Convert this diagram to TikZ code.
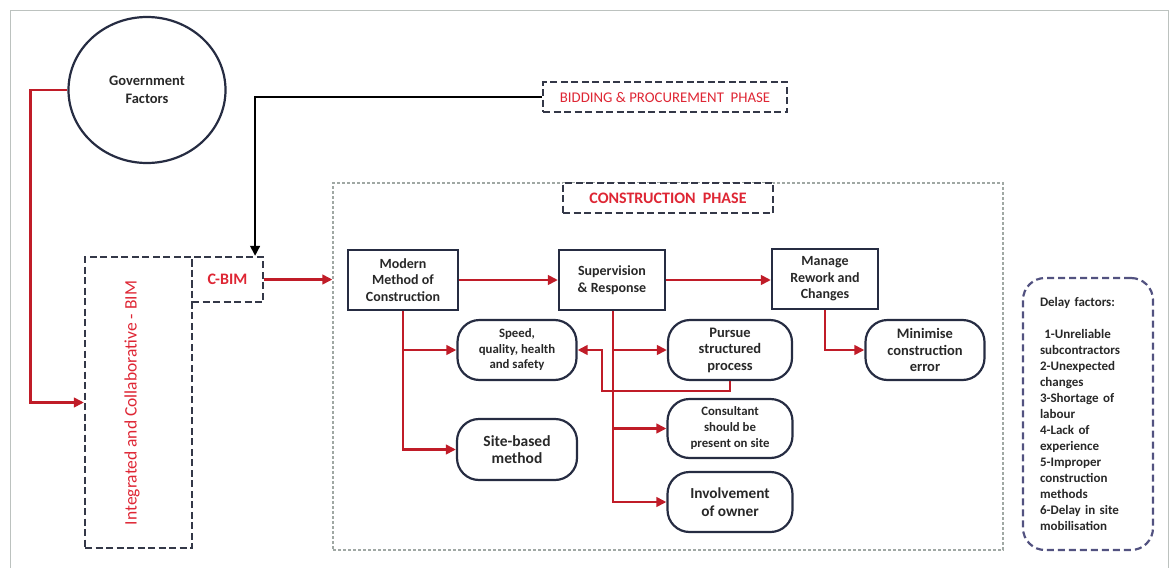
\documentclass[tikz,border=0pt]{standalone}
\usepackage{fontspec}
\setmainfont{Carlito}
\usepackage{tikz}
\usetikzlibrary{positioning,arrows.meta,calc,shapes.geometric}
\usepackage{xcolor}
\definecolor{bimred}{RGB}{192,28,40}
\definecolor{bimtxtred}{RGB}{222,38,52}
\definecolor{bimnavy}{RGB}{38,44,66}
\definecolor{bimdash}{RGB}{52,56,72}
\definecolor{bimlilac}{RGB}{82,82,128}
\definecolor{bimframe}{RGB}{160,168,164}
\definecolor{bimtext}{RGB}{40,40,40}

\begin{document}
\begin{tikzpicture}[
  x=1pt, y=-1pt,
  font=\fontsize{14}{16.5}\selectfont\bfseries,
  >={Triangle[length=10pt,width=9.5pt]},
  mainbox/.style={draw=bimnavy, line width=2.2pt, text=bimtext, align=center,
    inner sep=2pt, minimum width=108pt, minimum height=60pt},
  roundbox/.style={draw=bimnavy, line width=2.2pt, rounded corners=22pt,
    text=bimtext, align=center, inner sep=2pt, minimum width=120pt,
    minimum height=60pt},
  phasebox/.style={draw=bimdash, line width=2.2pt, dash pattern=on 7pt off 3.5pt,
    text=bimtxtred, inner sep=0pt},
  redarrow/.style={->, draw=bimred, line width=2.6pt},
]
  \useasboundingbox (0,0) rectangle (1171,568);
  % Page frame
  \draw[bimframe!70, line width=1pt] (10,568) -- (10,10) -- (1168,10) -- (1168,568);

  % Government factors and the BIM column
  \node[ellipse, draw=bimnavy, line width=2.2pt, minimum width=157pt, minimum height=146pt,
    inner sep=0pt, text=bimtext, align=center, font=\fontsize{14.5}{18}\selectfont\bfseries]
    (gov) at (147,90) {Government\\Factors};
  \node[phasebox, minimum width=107pt, minimum height=291pt] (integ) at (138.5,402.5) {};
  \node[rotate=90, text=bimtxtred, font=\fontsize{17.5}{20}\selectfont] (integlabel)
    at (132,403) {Integrated and Collaborative - BIM};
  \node[phasebox, minimum width=71pt, minimum height=45pt,
    font=\fontsize{16}{18}\selectfont\bfseries] (cbim) at (227.5,279.5) {C-BIM};

  % Phase labels
  \node[phasebox, minimum width=244pt, minimum height=30pt,
    font=\fontsize{14.8}{17}\selectfont] (bid) at (665,97) {BIDDING \& PROCUREMENT \ PHASE};
  \node[draw=bimframe, line width=1.2pt, dash pattern=on 3pt off 2pt,
    minimum width=670pt, minimum height=367pt] (cframe) at (668,366.5) {};
  \node[phasebox, fill=white, minimum width=210pt, minimum height=30pt,
    font=\fontsize{16}{18}\selectfont\bfseries] (clabel) at (668,198) {CONSTRUCTION \ PHASE};

  % Main steps
  \node[mainbox, minimum width=110pt] (mmc) at (403,280) {Modern\\Method of\\Construction};
  \node[mainbox, minimum width=106pt] (sup) at (612,280) {Supervision\\\& Response};
  \node[mainbox, minimum width=106pt] (mrc) at (825,279) {Manage\\Rework and\\Changes};

  % Outcomes
  \node[roundbox, minimum width=119pt, font=\fontsize{12.8}{15.5}\selectfont\bfseries]
    (speed) at (517,350) {Speed,\\quality, health\\and safety};
  \node[roundbox, minimum width=120pt, minimum height=61pt, font=\fontsize{15.5}{17.5}\selectfont\bfseries]
    (site) at (517,449.5) {Site-based\\method};
  \node[roundbox, minimum width=124pt, font=\fontsize{14.5}{16.5}\selectfont\bfseries]
    (pursue) at (730,350) {Pursue\\structured\\process};
  \node[roundbox, minimum width=125pt, minimum height=59pt, font=\fontsize{12.8}{16}\selectfont\bfseries]
    (consult) at (730,428.5) {Consultant\\should be\\present on site};
  \node[roundbox, minimum width=125pt, font=\fontsize{15.3}{17.5}\selectfont\bfseries]
    (owner) at (730,502) {Involvement\\of owner};
  \node[roundbox, minimum width=119pt, font=\fontsize{14.5}{16.5}\selectfont\bfseries]
    (minim) at (925,350) {Minimise\\construction\\error};

  % Delay factors
  \node[draw=bimlilac, line width=2.2pt, dash pattern=on 7pt off 4pt, rounded corners=22pt,
    minimum width=130pt, minimum height=272pt, text width=96pt, align=left, text=bimtext,
    font=\fontsize{13}{16}\selectfont\bfseries] (delay) at (1088,414)
    {Delay factors:\\[16pt]
     \ 1-Unreliable\\subcontractors\\2-Unexpected\\changes\\3-Shortage of\\labour\\
     4-Lack of\\experience\\5-Improper\\construction\\methods\\6-Delay in site\\mobilisation};

  % Connectors
  \draw[redarrow] (gov.west) -- ++(-37,0) |- (integ.west);
  \draw[->, line width=2.4pt] (bid.west) -| ([xshift=-9pt]cbim.north east);
  \draw[redarrow] (cbim.east) -- (cbim.east -| cframe.west);
  \draw[redarrow] (mmc.east) -- (sup.west);
  \draw[redarrow] (sup.east) -- (sup.east -| mrc.west);
  \foreach \t in {speed,site}
    \draw[redarrow] (mmc.south) |- (\t.west);
  \foreach \t in {pursue,consult,owner}
    \draw[redarrow] ([xshift=1pt]sup.south) |- (\t.west);
  \draw[redarrow] (pursue.south) -- ++(0,10) -- ++(-128,0) |- (speed.east);
  \draw[redarrow] (mrc.south) |- (minim.west);
\end{tikzpicture}
\end{document}
